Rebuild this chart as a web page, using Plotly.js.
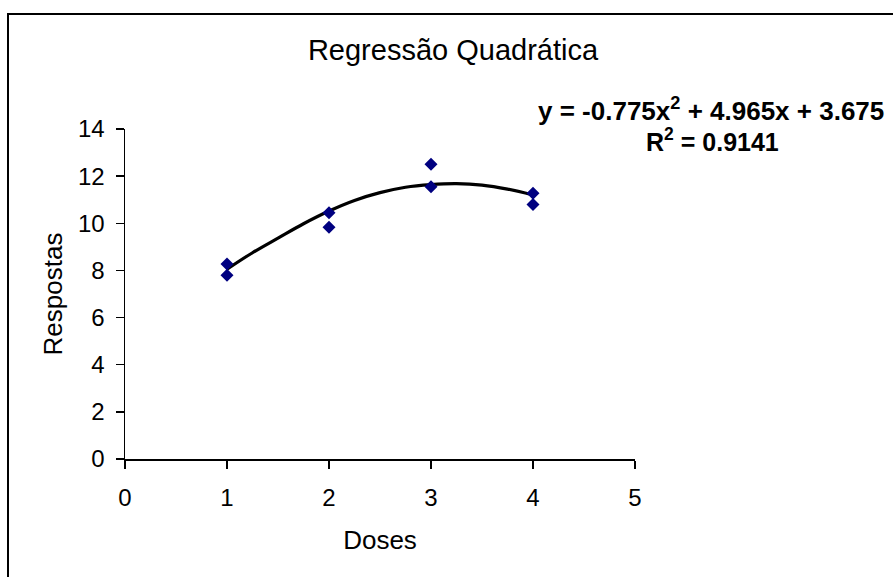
<!DOCTYPE html>
<html>
<head>
<meta charset="utf-8">
<script src="https://cdn.plot.ly/plotly-3.0.1.min.js"></script>
<style>
  html, body { margin: 0; padding: 0; background: #ffffff; }
  #chart { width: 893px; height: 577px; }
</style>
</head>
<body>
<div id="chart"></div>
<script>
var doses = [1, 1, 2, 2, 3, 3, 4, 4];
var respostas = [8.27, 7.8, 10.45, 9.83, 12.5, 11.55, 11.27, 10.8];

// Trendline as drawn in the picture
var trendX = [1, 1.25, 1.5, 1.75, 2, 2.25, 2.5, 2.75, 3, 3.25, 3.5, 3.75, 4];
var trendY = [8.05, 8.75, 9.37, 9.98, 10.52, 10.97, 11.3, 11.53, 11.64, 11.68, 11.62, 11.45, 11.2];

var xTicks = [0, 1, 2, 3, 4, 5];
var yTicks = [0, 2, 4, 6, 8, 10, 12, 14];

var chartTitle = 'Regressão Quadrática';
var xTitle = 'Doses';
var yTitle = 'Respostas';
var eqLine1 = 'y = -0.775x<sup>2</sup> + 4.965x + 3.675';
var eqLine2 = 'R<sup>2</sup> = 0.9141';

var FONT = 'Liberation Sans, Arial, sans-serif';

var traces = [
  {
    x: trendX, y: trendY, type: 'scatter', mode: 'lines',
    line: { color: '#000000', width: 3.2, shape: 'spline' },
    hoverinfo: 'skip', showlegend: false
  },
  {
    x: doses, y: respostas, type: 'scatter', mode: 'markers',
    marker: { symbol: 'diamond', size: 10, color: '#000080', line: { width: 0 } },
    showlegend: false
  }
];

var axisCommon = {
  showline: true, linecolor: '#000000', linewidth: 1.5,
  ticks: 'outside', ticklen: 8, tickwidth: 1.5, tickcolor: '#000000',
  showgrid: false, zeroline: false, automargin: false,
  tickfont: { family: FONT, size: 24, color: '#000000' }
};

var layout = {
  width: 893, height: 577,
  paper_bgcolor: '#ffffff', plot_bgcolor: '#ffffff',
  margin: { l: 125, r: 258, t: 129, b: 118, pad: 0 },
  showlegend: false,
  title: {
    text: chartTitle,
    font: { family: FONT, size: 29, color: '#000000' },
    x: 453 / 893, xref: 'container', xanchor: 'center',
    y: 1 - 50 / 577, yref: 'container', yanchor: 'middle'
  },
  xaxis: Object.assign({}, axisCommon, {
    range: [0, 5], tickmode: 'array', tickvals: xTicks,
    ticklabelstandoff: 9,
    title: { text: xTitle, standoff: 20, font: { family: FONT, size: 26, color: '#000000' } }
  }),
  yaxis: Object.assign({}, axisCommon, {
    range: [0, 14], tickmode: 'array', tickvals: yTicks,
    ticklabelstandoff: 6,
    title: { text: yTitle, standoff: 8, font: { family: FONT, size: 26, color: '#000000' } }
  }),
  annotations: [
    {
      text: eqLine1, xref: 'paper', yref: 'paper',
      x: (711 - 125) / 510, y: (459 - 110) / 330,
      xanchor: 'center', yanchor: 'middle', showarrow: false,
      font: { family: FONT, size: 26, color: '#000000', weight: 'bold' }
    },
    {
      text: eqLine2, xref: 'paper', yref: 'paper',
      x: (712 - 125) / 510, y: (459 - 140) / 330,
      xanchor: 'center', yanchor: 'middle', showarrow: false,
      font: { family: FONT, size: 25, color: '#000000', weight: 'bold' }
    }
  ],
  shapes: [
    {
      type: 'rect', xref: 'paper', yref: 'paper',
      x0: (8 - 125) / 510, x1: 1.7, y0: -0.6, y1: (459 - 14) / 330,
      line: { color: '#000000', width: 2 }, fillcolor: 'rgba(0,0,0,0)', layer: 'above'
    }
  ]
};

Plotly.newPlot('chart', traces, layout, { staticPlot: true, displayModeBar: false });
</script>
</body>
</html>
